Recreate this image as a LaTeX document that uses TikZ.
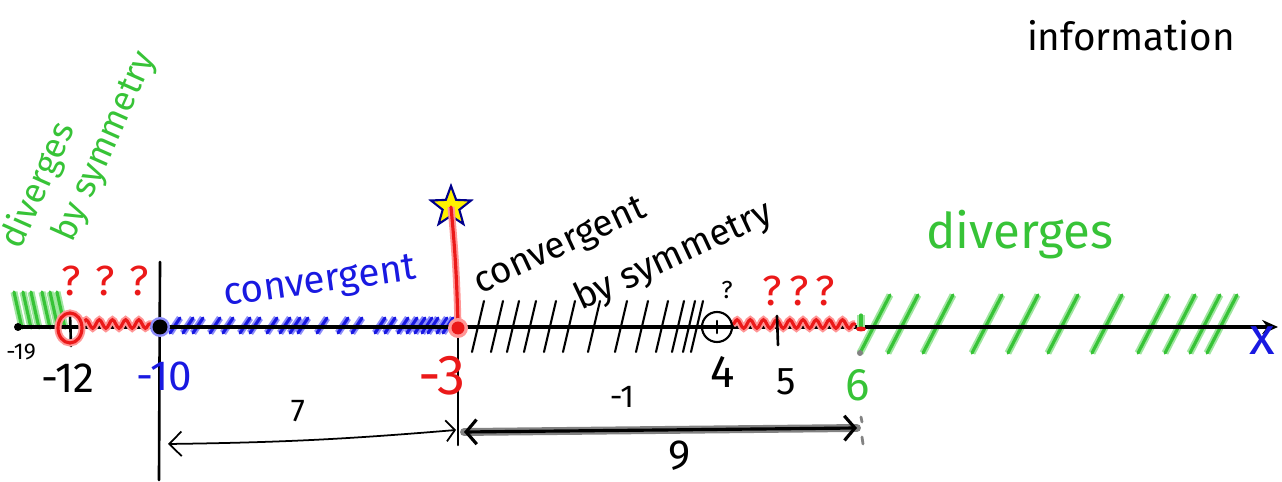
\documentclass[tikz,border=0pt]{standalone}
\usepackage{fontspec}
\setmainfont{Fira Sans}
\usetikzlibrary{arrows.meta,shapes.geometric,decorations.pathmorphing}
\definecolor{penred}{RGB}{235,25,25}
\definecolor{penredglow}{RGB}{255,150,150}
\definecolor{pengreen}{RGB}{55,195,55}
\definecolor{pengreenglow}{RGB}{160,230,160}
\definecolor{penblue}{RGB}{25,25,225}
\definecolor{penblueglow}{RGB}{140,140,250}
\definecolor{pengray}{RGB}{130,130,130}
\definecolor{starblue}{RGB}{0,0,140}
\newcommand{\fsz}[1]{\fontsize{#1}{#1}\selectfont}
\begin{document}
\begin{tikzpicture}[x=0.02cm,y=-0.02cm,
    ink/.style={line width=1.5pt,line cap=round,black},
    redpen/.style={line width=1.8pt,line cap=round,penred,preaction={draw,line width=4pt,penredglow}},
    greenpen/.style={line width=1.8pt,line cap=round,pengreen,preaction={draw,line width=4pt,pengreenglow}},
    bluepen/.style={line width=1.8pt,line cap=round,penblue,preaction={draw,line width=4pt,penblueglow}},
    wave/.style={decorate,decoration={snake,amplitude=2.4pt,segment length=7.5pt}},
    lbl/.style={inner sep=0pt}]
  \useasboundingbox (0,0) rectangle (1282,482);

  % points on the line
  \coordinate (xl) at (18,327);
  \coordinate (xr) at (1278,327);
  \coordinate (m12) at (70,328);
  \coordinate (m10) at (160,327);
  \coordinate (m3) at (458,328);
  \coordinate (p4) at (717,327);
  \coordinate (p6) at (861,329);

  % hatching
  \foreach \t in {14,23,31,42,50,57} \draw[greenpen] (\t,292) -- ++(8,36);
  \foreach \t in {175,188,198,215,228,245,255,272,285,295,303,322,343,357,380,390,403,412,420,427,433,442,448}
    \draw[bluepen] (\t-5,333) -- (\t+5,318);
  \foreach \t in {484,503,519,536,556,575,600,627,648,668,684,695,703}
    \draw[ink,line width=1.2pt] (\t,301) -- ++(-12,51);
  \foreach \t in {890,918,953,1002,1038,1078,1122,1168,1195,1220,1237}
    \draw[greenpen] (\t,295) -- ++(-30,58);

  % the axis
  \draw[line width=2.3pt,-{Stealth[length=9pt,width=8pt]}] (xl) -- (xr);
  \fill (xl) circle (4);
  \node[lbl,text=penblue,font=\fsz{30}] (xname) at (1262,341) {x};

  % red waves
  \draw[redpen,wave] (82,324) -- (153,324);
  \draw[redpen,wave] (733,324) -- (855,324);

  % -12
  \draw[ink] (70,314) -- (71,346);
  \draw[redpen] (m12) ellipse (12 and 15);
  \node[lbl,font=\fsz{13}] (l19) at (21,352) {-19};
  \node[lbl,font=\fsz{24}] (l12) at (68,378) {-12};

  % -10
  \draw[ink] (160,262) -- (159,480);
  \fill[penblueglow] (m10) circle (10);
  \fill (m10) circle (7.5);
  \node[lbl,text=penblue,font=\fsz{24}] (l10) at (164,376) {-10};

  % -3 and star
  \draw[ink] (458,313) -- (458,445);
  \node[star,star points=5,star point ratio=2.4,fill=yellow,draw=starblue,line width=1.2pt,
    minimum size=24pt,inner sep=0pt] (top) at (451,207) {};
  \draw[redpen] (top.center) to[bend left=2] (m3);
  \fill[penredglow] (m3) circle (10);
  \fill[penred] (m3) circle (6.5);
  \node[lbl,text=penred,font=\fsz{32}] (l3) at (442,376) {-3};

  % 4, 5, 6
  \draw[ink,line width=1.2pt] (p4) circle (15);
  \draw[ink] (717,321) -- (717,333);
  \draw[ink] (777,316) -- (778,345);
  \draw[greenpen] (p6) -- ++(0,-14);
  \fill[penred] (p6) ellipse (5 and 2.5);
  \fill[pengray] (860,353) circle (3);
  \draw[line width=1.6pt,pengray,line cap=round] (861,417) -- (862,422);
  \draw[line width=1.6pt,pengray,line cap=round] (862,437) -- (863,444);
  \node[lbl,font=\fsz{18}] (l1) at (622,397) {-1};
  \node[lbl,font=\fsz{26}] (l4) at (723,372) {4};
  \node[lbl,font=\fsz{22}] (l5) at (786,382) {5};
  \node[lbl,text=pengreen,font=\fsz{26}] (l6) at (858,385) {6};

  % distances
  \coordinate (a7l) at (168,444);
  \coordinate (a7r) at (456,430);
  \draw[line width=1pt,{Straight Barb[length=7pt,width=14pt]}-{Straight Barb[length=5pt,width=12pt]}]
    (a7l) to[bend right=2] (a7r);
  \node[lbl,font=\fsz{18}] (l7) at (298,411) {7};
  \coordinate (a9l) at (464,432);
  \coordinate (a9r) at (857,428);
  \draw[line width=4.5pt,pengray,line cap=round] (a9l) -- (a9r);
  \draw[line width=1.8pt,{Straight Barb[length=6pt,width=14pt]}-{Straight Barb[length=6pt,width=14pt]}]
    (a9l) -- (a9r);
  \node[lbl,font=\fsz{24}] (l9) at (680,456) {9};

  % words
  \node[lbl,text=penblue,font=\fsz{22},rotate=8] (conv) at (320,284) {convergent};
  \node[lbl,align=left,font=\fontsize{21}{33}\selectfont,rotate=25] (convs) at (624,250)
    {convergent\\\hspace*{48pt}by symmetry};
  \node[lbl,align=left,text=pengreen,font=\fontsize{20}{25}\selectfont,rotate=66] (divl) at (79,150)
    {diverges\\\hspace*{16pt}by symmetry};
  \node[lbl,text=pengreen,font=\fsz{28}] (divr) at (1020,235) {diverges};
  \node[lbl,font=\fsz{22}] (info) at (1131,36) {information};
  \node[lbl,text=penred,font=\fsz{24}] (qleft) at (105,281) {? ? ?};
  \node[lbl,text=penred,font=\fsz{24}] (qright) at (799,291) {?\,?\,?};
  \node[lbl,font=\fsz{14}] (qfour) at (727,290) {?};
\end{tikzpicture}
\end{document}
